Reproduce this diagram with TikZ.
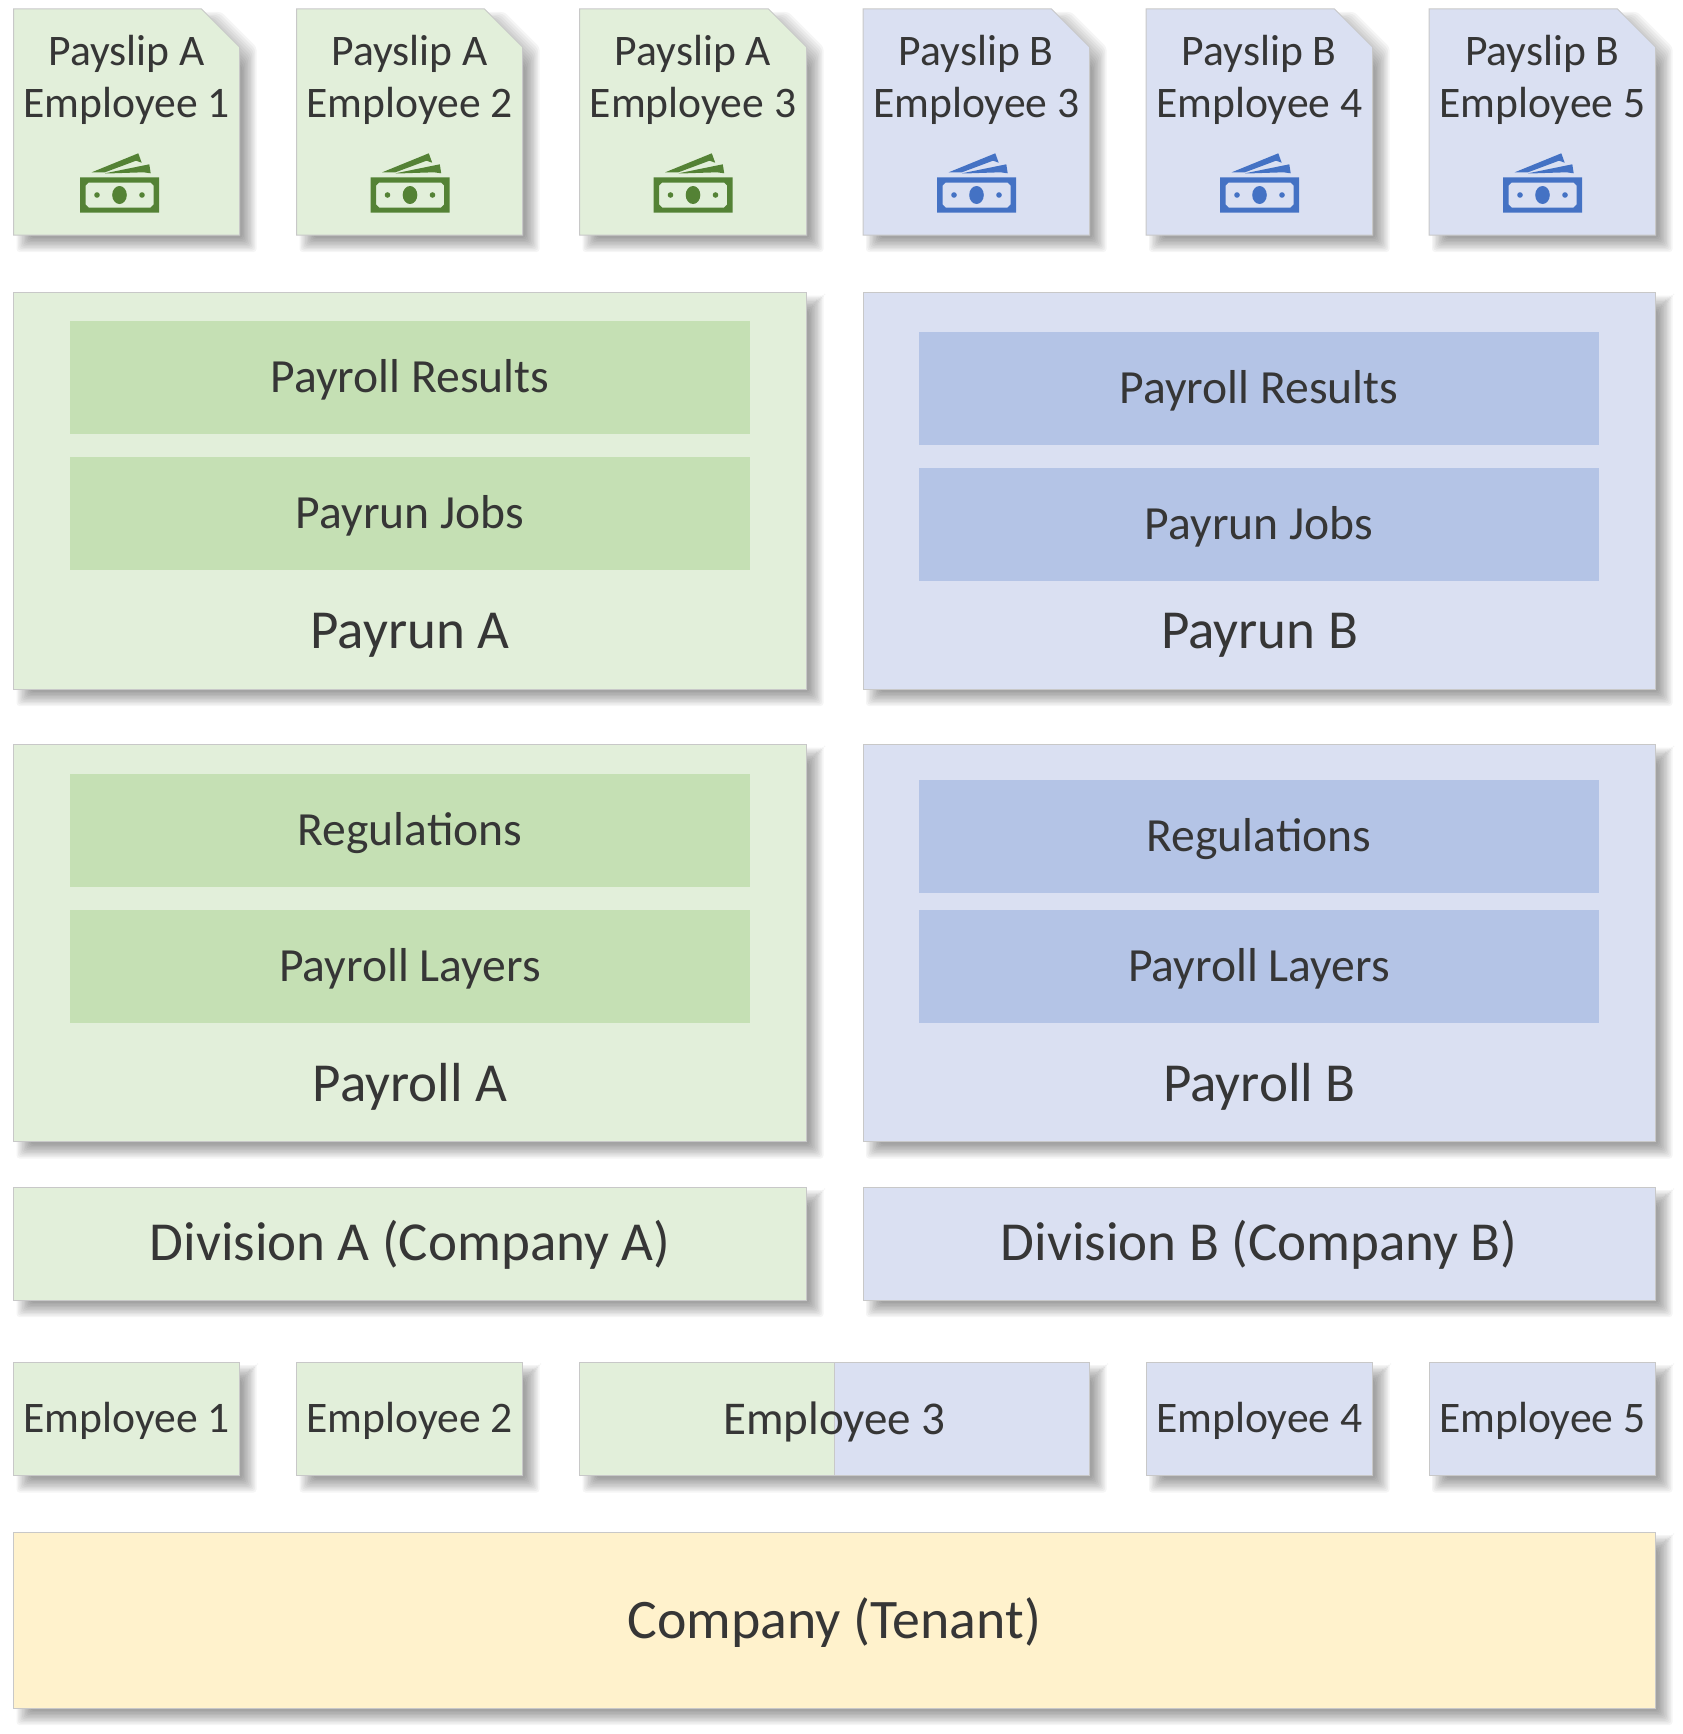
\documentclass[tikz,border=0pt]{standalone}
\usepackage{fontspec}
\setmainfont{Carlito}
\definecolor{greenL}{HTML}{E2EFDA}
\definecolor{greenM}{HTML}{C5E0B4}
\definecolor{greenD}{HTML}{548235}
\definecolor{blueL}{HTML}{DAE0F2}
\definecolor{blueM}{HTML}{B4C4E6}
\definecolor{blueD}{HTML}{4472C4}
\definecolor{yellowL}{HTML}{FFF2CC}
\definecolor{edgeG}{HTML}{C8C8C8}
\definecolor{inkT}{HTML}{363636}
\newcommand{\softshade}[5]{% x1 y1 x2 y2 chamfer
  \foreach \e in {-7,-5.6,-4.2,-2.8,-1.4,0,1.4,2.8,4.2,5.6,7}{%
    \fill[black,opacity=.038,rounded corners=3pt]
      ({#1+10-\e},{#2+10-\e}) -- ({#3+10+\e-#5+.41*\e},{#2+10-\e}) --
      ({#3+10+\e},{#2+10-\e+#5-.41*\e}) -- ({#3+10+\e},{#4+10+\e}) --
      ({#1+10-\e},{#4+10+\e}) -- cycle;}}
\newcommand{\cardbox}[7]{% name x1 y1 x2 y2 style text
  \softshade{#2}{#3}{#4}{#5}{0}
  \node[#6,minimum width={(#4-#2)*1pt},minimum height={(#5-#3)*1pt}] (#1) at ({(#2+#4)/2},{(#3+#5)/2}) {#7};}
\newcommand{\slipcard}[5]{% name x1 x2 fill text
  \softshade{#2}{9}{#3}{235}{38}
  \draw[edgeline,fill=#4] (#2,9) -- ({#3-38},9) -- (#3,47) -- (#3,235) -- (#2,235) -- cycle;
  \node[sliptext] (#1) at ({(#2+#3)/2},35) {#5};}
\newcommand{\moneyicon}[2]{% cx colour
  \begin{scope}[shift={(#1,0)}]
    \fill[#2,even odd rule] (-39.5,177.3) rectangle (39.5,212.7)
      (-31,182.5) -- (31,182.5) -- (34,185.5) -- (34,204.5) -- (31,207.5) -- (-31,207.5) -- (-34,204.5) -- (-34,185.5) -- cycle;
    \fill[#2] (0,195) ellipse [x radius=7.3,y radius=9];
    \fill[#2] (-22.5,195) circle [radius=2.8];
    \fill[#2] (22.5,195) circle [radius=2.8];
    \fill[#2] (-27.8,172.3) -- (18.8,153.3) -- (22.2,162.7) -- (16.5,160.7) -- (-14.5,172.3) -- cycle;
    \fill[#2] (-14.5,173.3) -- (29.8,164.3) -- (31.2,173.3) -- (23.8,172.3) -- (-6.5,173.3) -- cycle;
  \end{scope}}
\tikzset{
  edgeline/.style={draw=edgeG,line width=1pt,line join=miter},
  fs42/.style={font=\fontsize{43.6}{52}\selectfont},
  sliptext/.style={fs42,text=inkT,align=center,inner sep=0pt,anchor=north},
  emptxt/.style={edgeline,fs42,text=inkT,inner sep=0pt,text height=36pt,text depth=9pt},
  empwide/.style={emptxt,font=\fontsize{47}{56}\selectfont,text height=41pt},
  panel/.style={edgeline,inner sep=0pt},
  inner/.style={draw=none,inner sep=0pt,text=inkT,font=\fontsize{47.6}{56}\selectfont,text height=40pt,text depth=10pt},
  biglabel/.style={text=inkT,inner sep=0pt,font=\fontsize{55}{64}\selectfont,text height=47pt,text depth=12pt},
  glabel/.style={panel,text=inkT,font=\fontsize{55}{64}\selectfont,text height=45pt,text depth=12pt},
  tenantlabel/.style={glabel,font=\fontsize{55.8}{64}\selectfont,text height=48pt},
}
\begin{document}
\begin{tikzpicture}[x=1pt,y=-1pt]
\useasboundingbox (0,0) rectangle (1682,1734);
% payslips
\slipcard{slipA}{13.5}{239.5}{greenL}{Payslip A\\Employee 1}
\slipcard{slipB}{296.5}{522.5}{greenL}{Payslip A\\Employee 2}
\slipcard{slipC}{579.5}{806.5}{greenL}{Payslip A\\Employee 3}
\slipcard{slipD}{863}{1089.5}{blueL}{Payslip B\\Employee 3}
\slipcard{slipE}{1146}{1372.5}{blueL}{Payslip B\\Employee 4}
\slipcard{slipF}{1429}{1655.5}{blueL}{Payslip B\\Employee 5}
\moneyicon{119.5}{greenD}
\moneyicon{410}{greenD}
\moneyicon{693}{greenD}
\moneyicon{976.5}{blueD}
\moneyicon{1259.5}{blueD}
\moneyicon{1542.5}{blueD}
% payrun
\cardbox{payrunA}{13.5}{292.5}{806.5}{689}{panel,fill=greenL}{}
\cardbox{payrunB}{863}{292.5}{1655.5}{689}{panel,fill=blueL}{}
\node[inner,fill=greenM,minimum width=680pt,minimum height=113pt] (resA) at (410,377.5) {Payroll Results};
\node[inner,fill=greenM,minimum width=680pt,minimum height=113pt] (jobsA) at (410,513.5) {Payrun Jobs};
\node[biglabel] (lblPayrunA) at (410,631) {Payrun A};
\node[inner,fill=blueM,minimum width=680pt,minimum height=113pt] (resB) at (1259,388.5) {Payroll Results};
\node[inner,fill=blueM,minimum width=680pt,minimum height=113pt] (jobsB) at (1259,524.5) {Payrun Jobs};
\node[biglabel] (lblPayrunB) at (1259.5,631) {Payrun B};
% payroll
\cardbox{payrollA}{13.5}{744.5}{806.5}{1141.5}{panel,fill=greenL}{}
\cardbox{payrollB}{863}{744.5}{1655.5}{1141.5}{panel,fill=blueL}{}
\node[inner,fill=greenM,minimum width=680pt,minimum height=113pt] (regA) at (410,830.5) {Regulations};
\node[inner,fill=greenM,minimum width=680pt,minimum height=113pt] (layA) at (410,966) {Payroll Layers};
\node[biglabel] (lblPayrollA) at (410,1084) {Payroll A};
\node[inner,fill=blueM,minimum width=680pt,minimum height=113pt] (regB) at (1259,836) {Regulations};
\node[inner,fill=blueM,minimum width=680pt,minimum height=113pt] (layB) at (1259,966) {Payroll Layers};
\node[biglabel] (lblPayrollB) at (1259.5,1084) {Payroll B};
% divisions
\cardbox{divA}{13.5}{1187}{806.5}{1300}{glabel,fill=greenL}{Division A (Company A)}
\cardbox{divB}{863}{1187}{1655.5}{1300}{glabel,fill=blueL}{Division B (Company B)}
% employees
\cardbox{empA}{13.5}{1362}{239.5}{1475.5}{emptxt,fill=greenL}{Employee 1}
\cardbox{empB}{296.5}{1362}{522.5}{1475.5}{emptxt,fill=greenL}{Employee 2}
\softshade{579.5}{1362}{1089.5}{1475.5}{0}
\fill[greenL] (579.5,1362) rectangle (834,1475.5);
\fill[blueL] (834,1362) rectangle (1089.5,1475.5);
\draw[draw=edgeG,line width=.8pt] (834,1362) -- (834,1475.5);
\node[empwide,minimum width=510pt,minimum height=113.5pt] (empC) at (834.5,1418.75) {Employee 3};
\cardbox{empD}{1146}{1362}{1372.5}{1475.5}{emptxt,fill=blueL}{Employee 4}
\cardbox{empE}{1429}{1362}{1655.5}{1475.5}{emptxt,fill=blueL}{Employee 5}
% company
\cardbox{company}{13.5}{1532}{1655.5}{1708}{tenantlabel,fill=yellowL}{Company (Tenant)}
\end{tikzpicture}
\end{document}
